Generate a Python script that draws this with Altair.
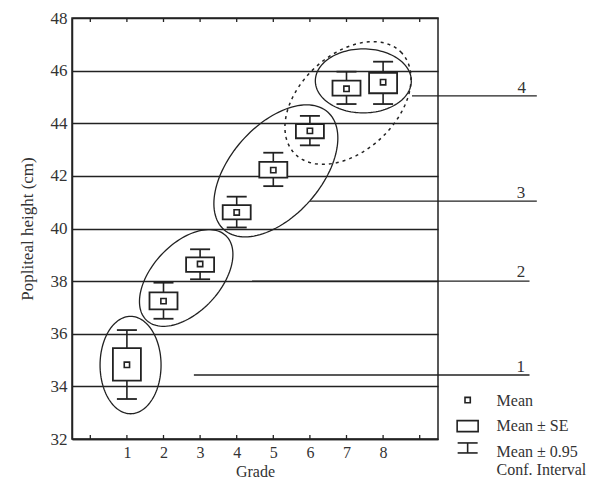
import altair as alt
import numpy as np
import pandas as pd

# ---------------- data ----------------
grades = [1, 2, 3, 4, 5, 6, 7, 8]
means = [34.82, 37.24, 38.65, 40.61, 42.22, 43.71, 45.31, 45.56]
se_lo = [34.22, 36.93, 38.35, 40.35, 41.93, 43.43, 45.05, 45.14]
se_hi = [35.45, 37.57, 38.90, 40.89, 42.53, 43.97, 45.62, 45.92]
ci_lo = [33.52, 36.57, 38.07, 40.04, 41.61, 43.16, 44.73, 44.73]
ci_hi = [36.14, 37.94, 39.21, 41.21, 42.88, 44.28, 45.96, 46.34]

y_ticks = [32, 34, 36, 38, 40, 42, 44, 46, 48]
x_ticks = [0, 1, 2, 3, 4, 5, 6, 7, 8, 9]

# group ellipses: centre (grade, cm), semi-axes (px), rotation (deg)
ell_id = ["g1", "g2", "g3", "g4", "g34"]
ell_cx = [1.10, 2.62, 5.07, 7.46, 7.04]
ell_cy = [34.81, 38.12, 42.19, 45.61, 44.77]
ell_a = [48.7, 58.0, 78.4, 48.0, 73.5]
ell_b = [30.5, 34.0, 45.3, 32.0, 48.3]
ell_rot = [90, 47, 48.6, 0, 43]
ell_dashed = [False, False, False, False, True]

# group label leader lines
grp_label = ["1", "2", "3", "4"]
grp_x0 = [2.83, 4.42, 6.00, 8.79]
grp_x1 = [12.0, 12.0, 12.2, 12.2]
grp_y = [34.43, 38.00, 41.04, 45.04]
grp_tx = [11.76, 11.77, 11.77, 11.79]
grp_ty = [34.53, 38.15, 41.15, 45.15]   # text baselines

# legend
leg_text = ["Mean", "Mean \u00b1 SE", "Mean \u00b1 0.95", "Conf. Interval"]
leg_ty = [33.25, 32.30, 31.32, 30.64]   # text baselines
leg_iy = [33.48, 32.49, 31.66]           # icon centres
leg_tx = 11.10
leg_ix = 10.31

# ---------------- layout ----------------
W, H = 366, 421
X_DOM = [-0.5, 9.5]
Y_DOM = [32, 48]
PXX = W / (X_DOM[1] - X_DOM[0])
PXY = H / (Y_DOM[1] - Y_DOM[0])
FONT = "Liberation Serif"
INK = "#222222"
TXT = "#333333"
FS = 17      # y axis, group labels
FS_B = 16    # bottom texts (x axis, legend)

xs = alt.Scale(domain=X_DOM, nice=False, zero=False)
ys = alt.Scale(domain=Y_DOM, nice=False, zero=False)
xaxis = alt.Axis(title="Grade", values=grades, ticks=False, grid=False,
                 labelPadding=5, labelFontSize=FS_B, titleFontSize=FS_B,
                 titleY=37, titleBaseline="alphabetic",
                 domainColor=INK, domainWidth=1.5)
yaxis = alt.Axis(title="Popliteal height (cm)", values=y_ticks, ticks=False, grid=True,
                 gridColor=INK, gridWidth=1.5, gridOpacity=1, labelPadding=5,
                 labelFontSize=FS, titleFontSize=FS,
                 titlePadding=14, domainColor=INK, domainWidth=1.5)


def X(f):
    return alt.X(f, type="quantitative", scale=xs, axis=xaxis, title="Grade")


def Y(f):
    return alt.Y(f, type="quantitative", scale=ys, axis=yaxis, title="Popliteal height (cm)")


stats = pd.DataFrame({"grade": grades, "mean": means, "se_lo": se_lo, "se_hi": se_hi,
                      "ci_lo": ci_lo, "ci_hi": ci_hi})

# inward tick marks on bottom and top frame
tick_len = 4 / PXY
ticks = pd.DataFrame({
    "x": x_ticks * 2,
    "y": [Y_DOM[0]] * len(x_ticks) + [Y_DOM[1]] * len(x_ticks),
    "y2": [Y_DOM[0] + tick_len] * len(x_ticks) + [Y_DOM[1] - tick_len] * len(x_ticks),
})
tick_layer = alt.Chart(ticks).mark_rule(color=INK, strokeWidth=1.3).encode(
    x=X("x"), y=Y("y"), y2="y2")

cap_half = 10 / PXX
box_half = 14 / PXX

whisk = alt.Chart(stats).mark_rule(color=INK, strokeWidth=1.6).encode(
    x=X("grade"), y=Y("ci_lo"), y2="ci_hi")
caps_base = alt.Chart(stats).transform_calculate(
    c0=f"datum.grade - {cap_half}", c1=f"datum.grade + {cap_half}")
cap_hi = caps_base.mark_rule(color=INK, strokeWidth=1.8).encode(
    x=X("c0:Q"), x2="c1:Q", y=Y("ci_hi"))
cap_lo = caps_base.mark_rule(color=INK, strokeWidth=1.8).encode(
    x=X("c0:Q"), x2="c1:Q", y=Y("ci_lo"))
boxes = alt.Chart(stats).transform_calculate(
    b0=f"datum.grade - {box_half}", b1=f"datum.grade + {box_half}"
).mark_rect(fill="white", stroke=INK, strokeWidth=1.8).encode(
    x=X("b0:Q"), x2="b1:Q", y=Y("se_lo"), y2="se_hi")
mean_pts = alt.Chart(stats).mark_square(size=28, fill="white", stroke=INK,
                                        strokeWidth=1.6, opacity=1).encode(
    x=X("grade"), y=Y("mean"))

# ellipse outlines
rows = []
t = np.linspace(0, 2 * np.pi, 121)
for k in range(len(ell_id)):
    th = np.deg2rad(ell_rot[k])
    dx = ell_a[k] * np.cos(t) * np.cos(th) - ell_b[k] * np.sin(t) * np.sin(th)
    dy = ell_a[k] * np.cos(t) * np.sin(th) + ell_b[k] * np.sin(t) * np.cos(th)
    for i in range(len(t)):
        rows.append({"id": ell_id[k], "i": i, "dashed": ell_dashed[k],
                     "ex": ell_cx[k] + dx[i] / PXX, "ey": ell_cy[k] + dy[i] / PXY})
ell = pd.DataFrame(rows)
ell_solid = alt.Chart(ell[~ell["dashed"]]).mark_line(color=INK, strokeWidth=1.3).encode(
    x=X("ex"), y=Y("ey"), detail="id:N", order="i:Q")
ell_dash = alt.Chart(ell[ell["dashed"]]).mark_line(color=INK, strokeWidth=1.5,
                                                   strokeDash=[3, 4]).encode(
    x=X("ex"), y=Y("ey"), detail="id:N", order="i:Q")

# group leader lines and labels
grp = pd.DataFrame({"label": grp_label, "x0": grp_x0, "x1": grp_x1, "y": grp_y,
                    "tx": grp_tx, "ty": grp_ty})
grp_lines = alt.Chart(grp).mark_rule(color=INK, strokeWidth=1.4).encode(
    x=X("x0"), x2="x1", y=Y("y"))
grp_text = alt.Chart(grp).mark_text(font=FONT, fontSize=FS, color=TXT,
                                    baseline="alphabetic", align="center").encode(
    x=X("tx"), y=Y("ty"), text="label:N")

# legend
leg = pd.DataFrame({"text": leg_text, "ty": leg_ty, "tx": [leg_tx] * 4})
leg_text_layer = alt.Chart(leg).mark_text(font=FONT, fontSize=FS_B, color=TXT,
                                          baseline="alphabetic", align="left").encode(
    x=X("tx"), y=Y("ty"), text="text:N")
leg_mean = alt.Chart(pd.DataFrame({"x": [leg_ix], "y": [leg_iy[0]]})).mark_square(
    size=28, fill="white", stroke=INK, strokeWidth=1.6, opacity=1).encode(x=X("x"), y=Y("y"))
lb_w, lb_h = 10.5 / PXX, 5.5 / PXY
leg_box = alt.Chart(pd.DataFrame({"x": [leg_ix - lb_w], "x2": [leg_ix + lb_w],
                                  "y": [leg_iy[1] - lb_h], "y2": [leg_iy[1] + lb_h]})
                    ).mark_rect(fill="white", stroke=INK, strokeWidth=1.6).encode(
    x=X("x"), x2="x2", y=Y("y"), y2="y2")
ci_h = 5 / PXY
leg_ci_stem = alt.Chart(pd.DataFrame({"x": [leg_ix], "y": [leg_iy[2] - ci_h],
                                      "y2": [leg_iy[2] + ci_h]})).mark_rule(
    color=INK, strokeWidth=1.6).encode(x=X("x"), y=Y("y"), y2="y2")
leg_ci_caps = alt.Chart(pd.DataFrame({"x": [leg_ix - cap_half] * 2, "x2": [leg_ix + cap_half] * 2,
                                      "y": [leg_iy[2] - ci_h, leg_iy[2] + ci_h]})).mark_rule(
    color=INK, strokeWidth=1.6).encode(x=X("x"), x2="x2", y=Y("y"))

chart = alt.layer(
    tick_layer, ell_dash, ell_solid, whisk, cap_hi, cap_lo, boxes, mean_pts,
    grp_lines, grp_text, leg_text_layer, leg_mean, leg_box, leg_ci_stem, leg_ci_caps,
).properties(
    width=W, height=H,
    autosize=alt.AutoSizeParams(type="none"),
    padding={"left": 64, "top": 10, "right": 166, "bottom": 41},
    background="white",
).configure_view(
    stroke=INK, strokeWidth=1.5
).configure_axis(
    labelFont=FONT, titleFont=FONT,
    labelColor=TXT, titleColor=TXT, titleFontWeight="normal",
)

chart.save("out.html", embed_options={"renderer": "svg", "actions": False})
